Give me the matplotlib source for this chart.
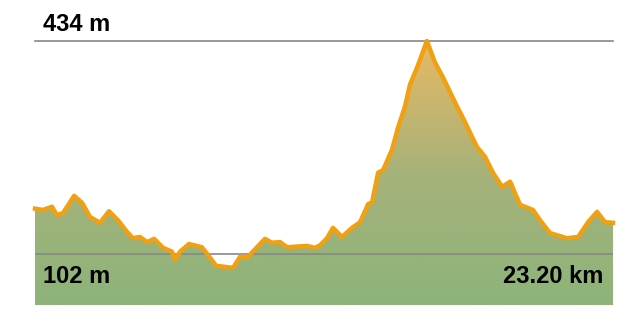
import numpy as np
import matplotlib
matplotlib.use("Agg")
import matplotlib.pyplot as plt
from matplotlib.colors import LinearSegmentedColormap

# distance along route (km) and elevation (m)
distance_km = [0.00, 0.32, 0.68, 0.88, 1.12, 1.57, 1.89, 2.21, 2.61, 2.97,
               3.33, 3.69, 3.93, 4.21, 4.50, 4.78, 5.14, 5.50, 5.62, 5.82,
               6.18, 6.70, 6.94, 7.27, 7.71, 7.95, 8.23, 8.55, 8.91, 9.23,
               9.51, 9.83, 10.12, 10.92, 11.24, 11.44, 11.72, 11.96, 12.32, 12.72,
               13.05, 13.37, 13.53, 13.77, 13.97, 14.33, 14.57, 14.85, 15.05, 15.33,
               15.73, 16.06, 16.38, 16.94, 17.18, 17.74, 18.06, 18.38, 18.75, 19.07,
               19.47, 19.99, 20.27, 20.67, 21.35, 21.80, 22.20, 22.56, 22.88, 23.20]
elevation_m = [173, 171, 176, 163, 166, 193, 182, 160, 151, 169,
               155, 137, 127, 129, 121, 126, 112, 106, 93, 106,
               118, 113, 101, 84, 82, 81, 98, 98, 113, 126,
               120, 121, 113, 115, 112, 116, 127, 143, 129, 143,
               152, 180, 183, 229, 233, 265, 299, 332, 366, 392,
               434, 400, 377, 332, 314, 269, 254, 229, 207, 215,
               179, 171, 155, 135, 127, 129, 152, 168, 152, 151]

max_label = "434 m"
min_label = "102 m"
dist_label = "23.20 km"
max_elev = 434
min_elev = 102
total_km = 23.20
y_floor = 23

plt.rcParams['font.family'] = ['Liberation Sans', 'DejaVu Sans']

fig = plt.figure(figsize=(6.4, 3.3), dpi=100)
ax = fig.add_axes([35 / 640, 25 / 330, 578 / 640, 264 / 330])
ax.set_xlim(0, total_km)
ax.set_ylim(y_floor, max_elev)
ax.axis("off")

# gradient fill under the profile
cmap = LinearSegmentedColormap.from_list("elev", ["#8db47a", "#a6b27a", "#e8b964"])
grad = np.linspace(0, 1, 256).reshape(-1, 1)
img = ax.imshow(grad, cmap=cmap, origin="lower", aspect="auto",
                extent=[0, total_km, y_floor, max_elev], zorder=1)
poly = ax.fill_between(distance_km, elevation_m, y_floor, color="none", lw=0)
img.set_clip_path(poly.get_paths()[0], transform=ax.transData)

# reference lines for max / min elevation
ax.axhline(max_elev, color="#888888", lw=1.2, zorder=2, clip_on=False)
ax.axhline(min_elev, color="#888888", lw=1.2, zorder=2)

ax.plot(distance_km, elevation_m, color="#f0a010", lw=3.2,
        solid_joinstyle="round", zorder=3, clip_on=False)

fig.text(43 / 640, 1 - 31 / 330, max_label, fontsize=17, fontweight="bold",
         ha="left", va="baseline", color="black")
fig.text(43 / 640, 1 - 283 / 330, min_label, fontsize=17, fontweight="bold",
         ha="left", va="baseline", color="black")
fig.text(603 / 640, 1 - 283 / 330, dist_label, fontsize=17, fontweight="bold",
         ha="right", va="baseline", color="black")

fig.savefig("out.png", dpi=100, facecolor="white")
